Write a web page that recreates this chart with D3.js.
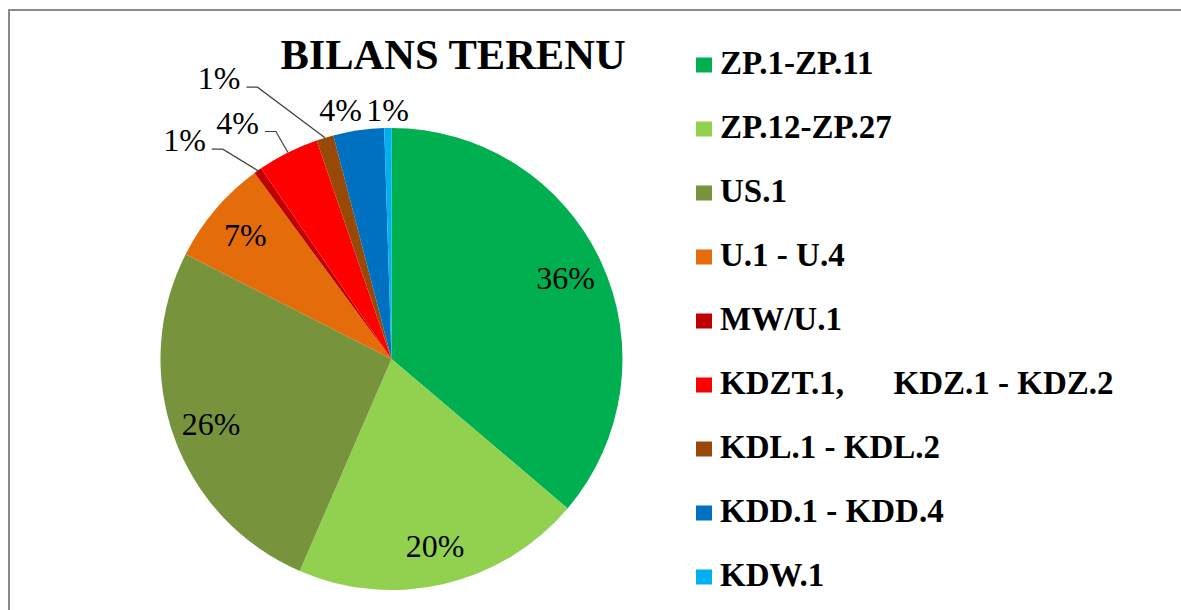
<!DOCTYPE html>
<html lang="pl">
<head>
	<meta charset="utf-8">
	<title>Bilans terenu</title>
	<script src="https://d3js.org/d3.v7.min.js"></script>
	<style type="text/css">
		body { margin: 0; background: #fff; }
		svg { display: block; background: #fff; }
		svg text { font-family: "Liberation Serif", "Times New Roman", serif; }
	</style>
</head>
<body>
	<svg id="chart" width="1181" height="610"></svg>

	<script type="text/javascript">

	// data (share of area, %)
	var categories = [
		"ZP.1-ZP.11",
		"ZP.12-ZP.27",
		"US.1",
		"U.1 - U.4",
		"MW/U.1",
		"KDZT.1,      KDZ.1 - KDZ.2",
		"KDL.1 - KDL.2",
		"KDD.1 - KDD.4",
		"KDW.1"
	]
	var shares = [36.2, 20.3, 26.0, 7.4, 0.55, 4.3, 1.2, 3.55, 0.5]
	var colors = ["#00b050", "#92d050", "#77933c", "#e46c0a", "#c00000",
				"#ff0000", "#984807", "#0070c0", "#00b0f0"]
	var title = "BILANS TERENU"

	// layout
	var W = 1181, H = 610
	var cx = 391.5, cy = 359, R = 231
	var insideRatio = 0.83
	var serif = "'Liberation Serif', 'Times New Roman', serif"
	var pctSize = 32, legendSize = 33, titleSize = 42.5

	// where the small slices put their labels (Excel moved these by hand)
	var labelLayout = {
		4: {mode: "leader", dx: -35, dy: -21.5},
		5: {mode: "leader", dx: -12, dy: -21},
		6: {mode: "leader", dx: -67.5, dy: -50.6},
		7: {mode: "outside", r: 252, dx: -15},
		8: {mode: "outside", r: 249, dx: 0}
	}

	var svg = d3.select("#chart")

	// chart frame (runs off the right and bottom of the picture)
	svg.append("rect")
		.attr("x", 9).attr("y", 10)
		.attr("width", 1220).attr("height", 700)
		.attr("fill", "none")
		.attr("stroke", "#8a8a8a")
		.attr("stroke-width", 2)

	var total = d3.sum(shares)
	var pct = v => Math.round(v / total * 100) + "%"

	var pie = d3.pie().sort(null).value(d => d)
	var arcs = pie(shares)

	var arc = d3.arc().innerRadius(0).outerRadius(R)
	var labelArc = d3.arc().innerRadius(R * insideRatio).outerRadius(R * insideRatio)
	var edgeArc = d3.arc().innerRadius(R).outerRadius(R)

	var g = svg.append("g").attr("transform", "translate(" + cx + "," + cy + ")")

	g.selectAll("path.slice")
		.data(arcs)
		.join("path")
		.attr("class", "slice")
		.attr("fill", (d, i) => colors[i])
		.attr("d", arc)

	function pctText(x, y, anchor, txt) {
		g.append("text")
			.attr("x", x).attr("y", y)
			.attr("text-anchor", anchor)
			.attr("font-family", serif)
			.attr("font-size", pctSize)
			.attr("fill", "#000")
			.text(txt)
	}

	// labels
	arcs.forEach((d, i) => {
		var lay = labelLayout[i]
		var txt = pct(d.data)
		if (!lay) {
			var c = labelArc.centroid(d)
			pctText(c[0], c[1] + 11, "middle", txt)
		} else if (lay.mode === "outside") {
			var oa = d3.arc().innerRadius(lay.r).outerRadius(lay.r)
			var c = oa.centroid(d)
			pctText(c[0] + lay.dx, c[1] + 11, "middle", txt)
		} else {
			var e = edgeArc.centroid(d)
			var elbow = [e[0] + lay.dx, e[1] + lay.dy]
			var start = [elbow[0] - 11, elbow[1]]
			g.append("polyline")
				.attr("points", [start, elbow, e].map(p => p.join(",")).join(" "))
				.attr("fill", "none")
				.attr("stroke", "#404040")
				.attr("stroke-width", 1.2)
			pctText(start[0] - 6, start[1] + 2, "end", txt)
		}
	})

	// title
	svg.append("text")
		.attr("x", 453).attr("y", 69)
		.attr("text-anchor", "middle")
		.attr("font-family", serif)
		.attr("font-size", titleSize)
		.attr("font-weight", "bold")
		.text(title)

	// legend
	var ly = d3.scalePoint().domain(d3.range(categories.length)).range([65, 577])
	var legend = svg.append("g")
		.selectAll("g")
		.data(categories)
		.join("g")
		.attr("transform", (d, i) => "translate(696," + ly(i) + ")")

	legend.append("rect")
		.attr("x", 0).attr("y", -7.5)
		.attr("width", 16).attr("height", 15)
		.attr("fill", (d, i) => colors[i])

	legend.append("text")
		.attr("x", 24).attr("y", 8.5)
		.attr("font-family", serif)
		.attr("font-size", legendSize)
		.attr("font-weight", "bold")
		.style("white-space", "pre")
		.text(d => d)

	</script>
</body>
</html>
